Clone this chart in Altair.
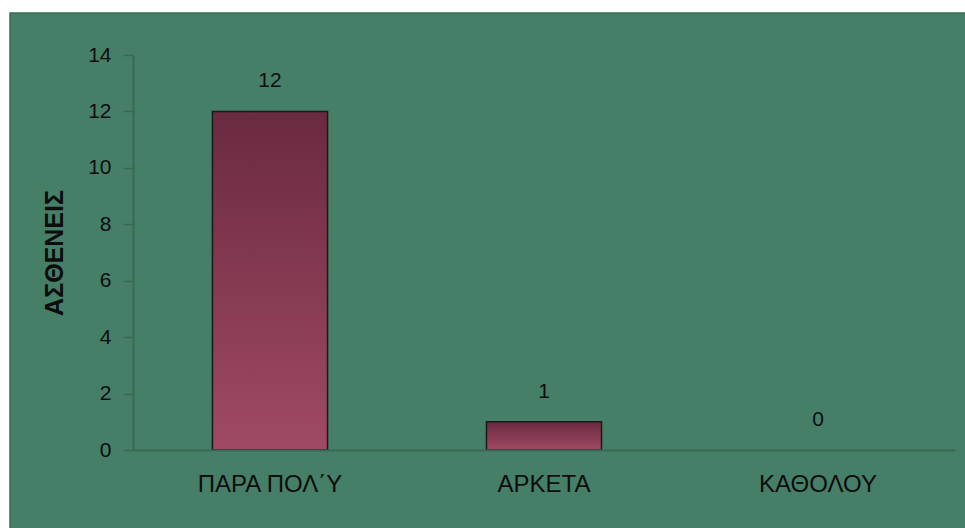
import altair as alt
import pandas as pd

# Responses per category
categories = ["ΠΑΡΑ ΠΟΛ΄Υ", "ΑΡΚΕΤΑ", "ΚΑΘΟΛΟΥ"]
patients = [12, 1, 0]

df = pd.DataFrame({"cat": categories, "n": patients})

FONT = "Liberation Sans"
PLOT_W, PLOT_H = 822, 395

# Green panel behind the whole chart (extends past the plot area)
panel = alt.Chart(pd.DataFrame({"a": [0]})).mark_rect(
    color="#467f68", stroke="#3a6b57", strokeWidth=1.5, clip=False
).encode(
    x=alt.value(-123), x2=alt.value(PLOT_W + 12),
    y=alt.value(-42), y2=alt.value(PLOT_H + 80),
)

x_enc = alt.X(
    "cat:N", sort=categories, title=None,
    scale=alt.Scale(paddingInner=0.58, paddingOuter=0.29),
    axis=alt.Axis(labelAngle=0, labelFont=FONT, labelFontSize=24,
                  labelColor="#0d0d0d", labelPadding=22, ticks=False,
                  domainColor="#3a6853", domainWidth=2, zindex=1),
)
y_enc = alt.Y(
    "n:Q", title="ΑΣΘΕΝΕΙΣ",
    scale=alt.Scale(domain=[0, 14]),
    axis=alt.Axis(values=list(range(0, 15, 2)), grid=False,
                  labelFont=FONT, labelFontSize=21, labelColor="#0d0d0d",
                  labelPadding=12, tickSize=10, tickColor="#3a6853",
                  tickWidth=1.5, domainColor="#3a6853", domainWidth=2,
                  titleFont=FONT, titleFontSize=25, titleFontWeight="bold",
                  titleColor="#0d0d0d", titlePadding=20, zindex=1),
)

# Zero-valued categories draw no bar
bars = alt.Chart(df).transform_filter("datum.n > 0").mark_bar(
    stroke="#1a1a1a", strokeWidth=1.5,
    color=alt.Gradient(
        gradient="linear", x1=0, x2=0, y1=0, y2=1,
        stops=[alt.GradientStop(offset=0, color="#6a2a40"),
               alt.GradientStop(offset=1, color="#a04a64")],
    ),
).encode(x=x_enc, y=y_enc)

labels = alt.Chart(df).mark_text(
    dy=-30, font=FONT, fontSize=21, color="#0d0d0d"
).encode(x=alt.X("cat:N", sort=categories), y="n:Q", text="n:Q")

chart = alt.layer(panel, bars, labels).properties(
    width=PLOT_W, height=PLOT_H,
    background="white",
    padding={"left": 133, "top": 55, "right": 10, "bottom": 78},
    autosize=alt.AutoSizeParams(type="none"),
).configure_view(stroke=None)

chart.save("out.html", embed_options={"renderer": "svg", "actions": False})
